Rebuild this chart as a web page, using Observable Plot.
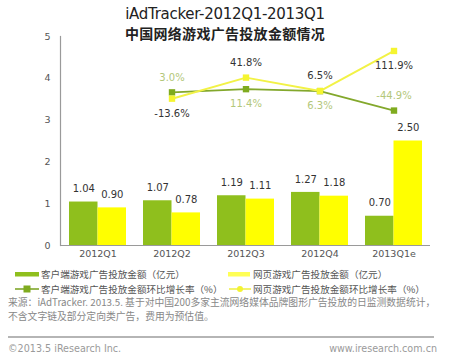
<!DOCTYPE html>
<html>
<head>
<meta charset="utf-8">
<script src="https://cdn.jsdelivr.net/npm/d3@7"></script>
<script src="https://cdn.jsdelivr.net/npm/@observablehq/plot@0.6"></script>
<style>
  html, body { margin: 0; padding: 0; background: #fff; }
  #wrap { position: relative; width: 450px; height: 360px; overflow: hidden; font-family: "DejaVu Sans", "Noto Sans CJK SC", sans-serif; }
  #chart { position: absolute; left: 0; top: 0; }
  .t1 { position: absolute; left: 0; width: 450px; text-align: center; top: 5px; font-size: 15px; color: #222; font-family: "DejaVu Sans", sans-serif; letter-spacing: -0.3px; }
  .t2 { position: absolute; left: 0; width: 450px; text-align: center; top: 23px; font-size: 14px; font-weight: bold; color: #222; font-family: "Noto Sans CJK SC", sans-serif; letter-spacing: 0.3px; }
  .leg { position: absolute; font-size: 9.6px; color: #555; font-family: "Noto Sans CJK SC", sans-serif; white-space: nowrap; line-height: 12px; }
  .src { position: absolute; left: 8px; font-size: 9.8px; color: #888; font-family: "Noto Sans CJK SC", sans-serif; white-space: nowrap; line-height: 12px; }
  .foot { position: absolute; top: 343px; font-size: 9.6px; color: #9a9a9a; font-family: "DejaVu Sans", sans-serif; white-space: nowrap; }
  .hr { position: absolute; left: 8px; top: 336px; width: 426px; height: 2px; background: #b5b5b5; }
  .sw { position: absolute; }
</style>
</head>
<body>
<div id="wrap">
  <div id="chart"></div>
  <div class="t1">iAdTracker-2012Q1-2013Q1</div>
  <div class="t2">中国网络游戏广告投放金额情况</div>

  <svg class="sw" style="left:14px;top:270px" width="26" height="26">
    <rect x="1" y="2" width="24" height="4.5" fill="#8fbf1d"></rect>
    <line x1="1" y1="19" x2="25" y2="19" stroke="#7fa62a" stroke-width="1.6"></line>
    <rect x="9.5" y="15.5" width="7" height="7" fill="#7fab1f"></rect>
  </svg>
  <div class="leg" style="left:41px;top:268px">客户端游戏广告投放金额（亿元）</div>
  <div class="leg" style="left:41px;top:283px">客户端游戏广告投放金额环比增长率（%）</div>

  <svg class="sw" style="left:227px;top:270px" width="26" height="26">
    <rect x="1" y="2" width="22" height="4.5" fill="#ffff55"></rect>
    <line x1="2" y1="19" x2="24" y2="19" stroke="#f0f04a" stroke-width="1.6"></line>
    <circle cx="13" cy="19" r="3" fill="#f3f332"></circle>
  </svg>
  <div class="leg" style="left:253px;top:268px">网页游戏广告投放金额（亿元）</div>
  <div class="leg" style="left:253px;top:283px">网页游戏广告投放金额环比增长率（%）</div>

  <div class="src" style="top:296px">来源：iAdTracker. 2013.5. 基于对中国200多家主流网络媒体品牌图形广告投放的日监测数据统计，</div>
  <div class="src" style="top:310px">不含文字链及部分定向类广告，费用为预估值。</div>
  <div class="hr"></div>
  <div class="foot" style="left:8px">©2013.5 iResearch Inc.</div>
  <div class="foot" style="right:13px">www.iresearch.com.cn</div>
</div>
<script>
// ---- data ----
const quarters = ["2012Q1", "2012Q2", "2012Q3", "2012Q4", "2013Q1e"];
const clientAmount = [1.04, 1.07, 1.19, 1.27, 0.70];   // 客户端游戏广告投放金额（亿元）
const webAmount    = [0.90, 0.78, 1.11, 1.18, 2.50];   // 网页游戏广告投放金额（亿元）
const rateQuarters = ["2012Q2", "2012Q3", "2012Q4", "2013Q1e"];
const clientRate = [3.0, 11.4, 6.3, -44.9];            // 客户端环比增长率（%）
const webRate    = [-13.6, 41.8, 6.5, 111.9];          // 网页环比增长率（%）
const yTicks = [0, 1, 2, 3, 4, 5];
const rateAxisDomain = [-400, 150];                    // hidden secondary axis (%)

// label placement (layout, not data): -1 above, +1 below
const clientRateSide = [-1, 1, 1, -1];
const webRateSide = [1, -1, -1, 1];

// ---- tables ----
const bars = quarters.map((q, i) => ({q, client: clientAmount[i], web: webAmount[i]}));
const rate2y = d3.scaleLinear(rateAxisDomain, [0, 5]);
const cr = rateQuarters.map((q, i) => ({q, r: clientRate[i], y: rate2y(clientRate[i]), side: clientRateSide[i]}));
const wr = rateQuarters.map((q, i) => ({q, r: webRate[i], y: rate2y(webRate[i]), side: webRateSide[i]}));

const GREEN = "#8fbf1d", YELLOW = "#ffff00";
const half = 57 / 2;

const chart = Plot.plot({
  width: 450,
  height: 263,
  marginLeft: 60,
  marginRight: 20,
  marginTop: 36,
  marginBottom: 18,
  style: {fontFamily: "DejaVu Sans, sans-serif", fontSize: "9.5px", background: "transparent"},
  x: {domain: quarters, paddingInner: 0.23, paddingOuter: 0.115, label: null},
  y: {domain: [0, 5], label: null},
  marks: [
    Plot.barY(bars, {x: "q", y: "client", fill: GREEN, insetRight: half}),
    Plot.barY(bars, {x: "q", y: "web", fill: YELLOW, insetLeft: half}),
    Plot.text(bars, {x: "q", y: "client", text: d => d.client.toFixed(2), dx: -half / 2, dy: -13, fill: "#333", fontSize: 10}),
    Plot.text(bars, {x: "q", y: "web", text: d => d.web.toFixed(2), dx: half / 2, dy: -13, fill: "#333", fontSize: 10}),
    Plot.ruleY([0], {stroke: "#9a9a9a", strokeWidth: 1.2}),
    Plot.frame({anchor: "left", stroke: "#9a9a9a", strokeWidth: 1.2}),
    Plot.axisY({ticks: yTicks, tickSize: 0, tickPadding: 10, tickFormat: d => d, fill: "#555", label: null}),
    Plot.axisX({tickSize: 0, tickPadding: 5, fill: "#555", fontWeight: "normal", label: null, fontSize: 9.5}),
    Plot.line(cr, {x: "q", y: "y", stroke: "#83a82c", strokeWidth: 1.8}),
    Plot.dot(cr, {x: "q", y: "y", symbol: "square", r: 3.6, fill: "#7fab1f"}),
    Plot.line(wr, {x: "q", y: "y", stroke: "#f2f246", strokeWidth: 2}),
    Plot.dot(wr, {x: "q", y: "y", symbol: "square", r: 3.6, fill: "#f5f530"}),
    Plot.text(cr.filter(d => d.side < 0), {x: "q", y: "y", text: d => d.r.toFixed(1) + "%", dy: -15, fill: "#b3c77a", fontSize: 10}),
    Plot.text(cr.filter(d => d.side > 0), {x: "q", y: "y", text: d => d.r.toFixed(1) + "%", dy: 15, fill: "#b3c77a", fontSize: 10}),
    Plot.text(wr.filter(d => d.side < 0), {x: "q", y: "y", text: d => d.r.toFixed(1) + "%", dy: -15, fill: "#333", fontSize: 10}),
    Plot.text(wr.filter(d => d.side > 0), {x: "q", y: "y", text: d => d.r.toFixed(1) + "%", dy: 15, fill: "#333", fontSize: 10})
  ]
});
document.getElementById("chart").appendChild(chart);
</script>
</body>
</html>
